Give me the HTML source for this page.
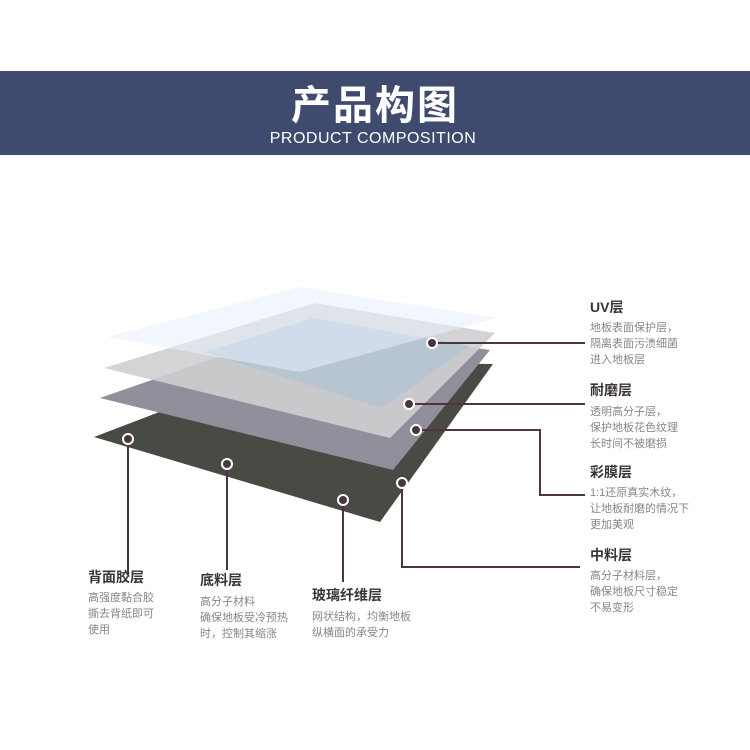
<!DOCTYPE html>
<html><head><meta charset="utf-8"><style>
body{margin:0;background:#fff;}
svg{display:block;}
text{font-family:"Liberation Sans","Noto Sans CJK SC",sans-serif;}
.h{font-size:14px;font-weight:bold;fill:#3a3436;}
.t{font-size:11px;fill:#8a8587;}
</style></head><body>
<svg width="750" height="750" viewBox="0 0 750 750" xmlns="http://www.w3.org/2000/svg">
<rect x="0" y="71" width="750" height="84" fill="#3e4a6e"/>
<text x="375" y="119" text-anchor="middle" font-size="40" font-weight="bold" fill="#fff" letter-spacing="2">产品构图</text>
<text x="373" y="143" text-anchor="middle" font-size="16" fill="#fff" letter-spacing="0.5">PRODUCT COMPOSITION</text>

<polygon points="94,437 290,362 493,364 380,522" fill="#4a4a45"/>
<polygon points="100,398 310,325 490,350 393,470" fill="#908f9b"/>
<polygon points="104,368 315,303 495,333 390,438" fill="#cfcfd2" opacity="0.9"/>
<polygon points="205,352 313,318 470,346 382,408" fill="#b7c4d2"/>
<polygon points="107,337 300,287 497,318 300,372" fill="#e6f1fb" opacity="0.55"/>

<g stroke="#4a3640" stroke-width="2" fill="none">
<polyline points="432,343 585,343"/>
<polyline points="409,404 585,404"/>
<polyline points="416,430 540,430 540,495 585,495"/>
<polyline points="402,483 402,567 580,567"/>
<polyline points="128,439 128,575"/>
<polyline points="227,464 227,570"/>
<polyline points="343,500 343,582"/>
</g>
<g fill="#4a3640" stroke="#fff" stroke-width="2">
<circle cx="432" cy="343" r="5"/>
<circle cx="409" cy="404" r="5"/>
<circle cx="416" cy="430" r="5"/>
<circle cx="402" cy="483" r="5"/>
<circle cx="343" cy="500" r="5"/>
<circle cx="227" cy="464" r="5"/>
<circle cx="128" cy="439" r="5"/>
</g>

<text class="h" x="590" y="312">UV层</text>
<text class="t" x="590" y="331">地板表面保护层，</text>
<text class="t" x="590" y="347">隔离表面污渍细菌</text>
<text class="t" x="590" y="363">进入地板层</text>

<text class="h" x="590" y="395">耐磨层</text>
<text class="t" x="590" y="415">透明高分子层，</text>
<text class="t" x="590" y="431">保护地板花色纹理</text>
<text class="t" x="590" y="447">长时间不被磨损</text>

<text class="h" x="590" y="477">彩膜层</text>
<text class="t" x="590" y="496">1:1还原真实木纹，</text>
<text class="t" x="590" y="512">让地板耐磨的情况下</text>
<text class="t" x="590" y="528">更加美观</text>

<text class="h" x="590" y="560">中料层</text>
<text class="t" x="590" y="579">高分子材料层，</text>
<text class="t" x="590" y="595">确保地板尺寸稳定</text>
<text class="t" x="590" y="611">不易变形</text>

<text class="h" x="88" y="582">背面胶层</text>
<text class="t" x="88" y="601">高强度黏合胶</text>
<text class="t" x="88" y="617">撕去背纸即可</text>
<text class="t" x="88" y="633">使用</text>

<text class="h" x="200" y="585">底料层</text>
<text class="t" x="200" y="605">高分子材料</text>
<text class="t" x="200" y="621">确保地板受冷预热</text>
<text class="t" x="200" y="637">时，控制其缩涨</text>

<text class="h" x="312" y="600">玻璃纤维层</text>
<text class="t" x="312" y="620">网状结构，均衡地板</text>
<text class="t" x="312" y="636">纵横面的承受力</text>
</svg>
</body></html>
